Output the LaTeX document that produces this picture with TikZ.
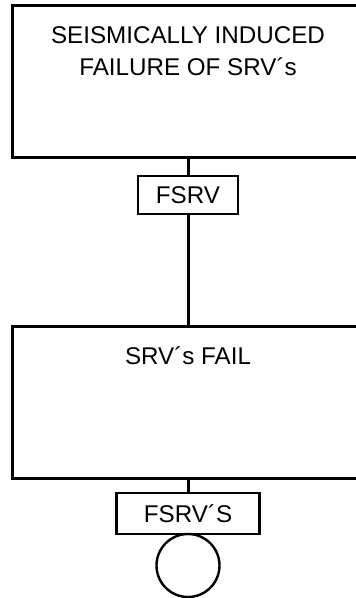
\documentclass[tikz,border=0pt]{standalone}
\usepackage{fontspec}
\setmainfont{Liberation Sans}
\usepackage{tikz}
\usetikzlibrary{positioning,calc}

\begin{document}
\begin{tikzpicture}[x=1pt, y=1pt,
  event/.style={rectangle, draw, line width=3pt, minimum width=352pt,
    minimum height=152pt, inner sep=0pt, outer sep=0pt},
  evtext/.style={font=\fontsize{24.2}{32}\selectfont, align=center, inner sep=0pt},
  tag/.style={rectangle, draw, line width=2.6pt, inner sep=0pt, outer sep=0pt,
    font=\fontsize{24.2}{28}\selectfont, minimum height=38pt},
  basic/.style={circle, draw, line width=2.4pt, minimum size=63pt, inner sep=0pt,
    outer sep=0pt},
  link/.style={line width=3pt}
]
\useasboundingbox (0,0) rectangle (356,-598);
\begin{scope}
\clip (0,0) rectangle (356,-598);
\node[event] (E1) at (188,-81) {};
\node[evtext, anchor=north] (E1t) at ($(E1.north)+(0,-21)$) {SEISMICALLY INDUCED\\FAILURE OF SRV´s};

\node[tag, minimum width=100pt] (T1) at (188,-195) {FSRV};

\node[event] (E2) at (188,-402) {};
\node[evtext, anchor=north] (E2t) at ($(E2.north)+(0,-20.5)$) {SRV´s FAIL};

\node[tag, minimum width=143pt, minimum height=41pt] (T2) at (188,-513.5) {FSRV´S};
\node[basic, below=0pt of T2] (B1) {};

\draw[link] (E1.south) -- (T1.north);
\draw[link] (T1.south) -- (E2.north);
\draw[link] (E2.south) -- (T2.north);
\end{scope}
\end{tikzpicture}
\end{document}
